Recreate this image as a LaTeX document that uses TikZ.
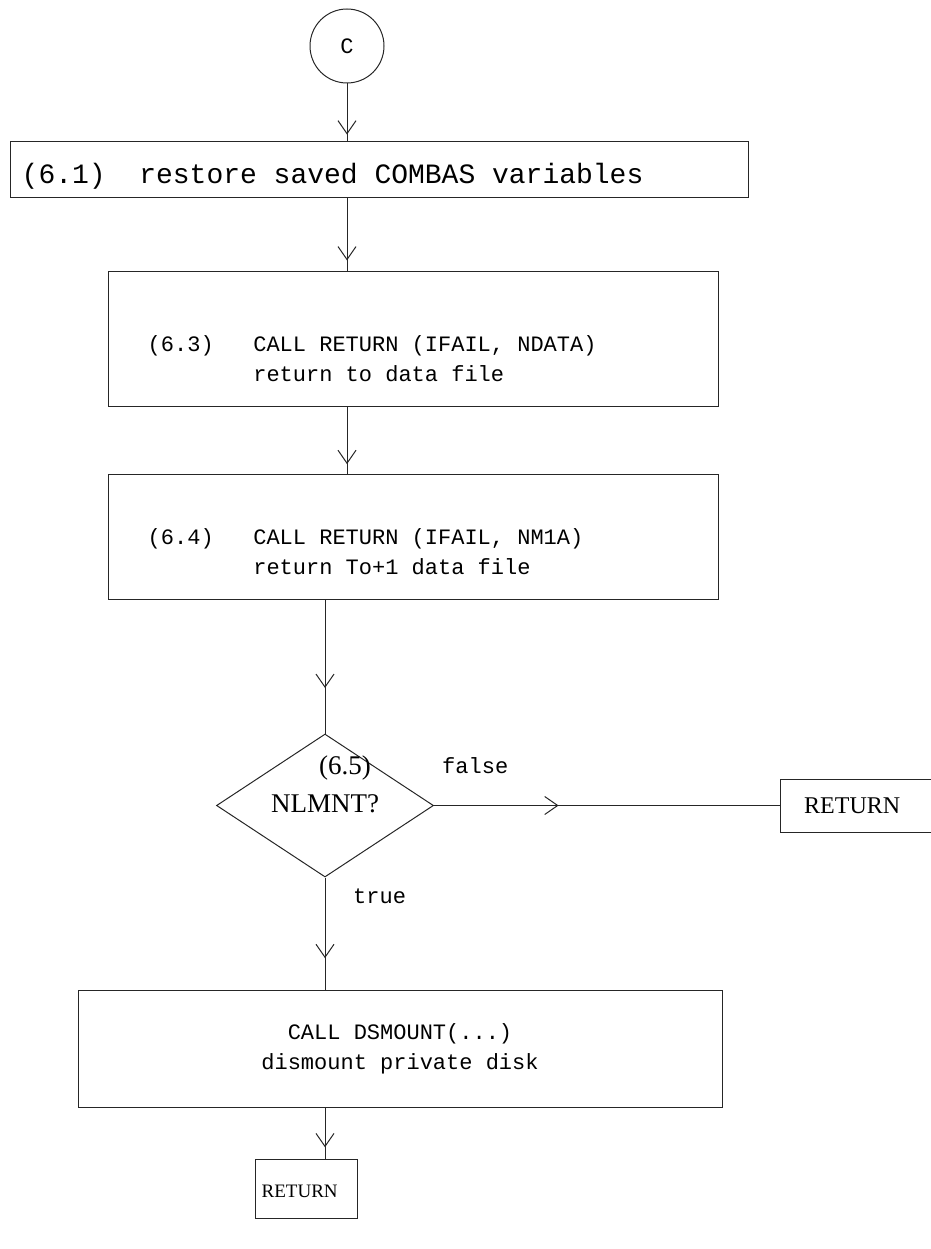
\documentclass[tikz,border=0pt]{standalone}
\usepackage{fontspec}
\setmonofont{Liberation Mono}
\setmainfont{Liberation Serif}
\usetikzlibrary{arrows.meta, positioning, shapes.geometric, decorations.markings}

\begin{document}
\begin{tikzpicture}[
    x=1pt, y=-1pt,
    font=\fontsize{22}{30}\selectfont\ttfamily,
    box/.style={rectangle, draw=black!85, line width=1pt, minimum width=#1, inner sep=0pt},
    box/.default={100pt},
    term/.style={circle, draw=black!85, line width=1pt, minimum size=74pt, inner sep=0pt},
    test/.style={diamond, draw=black!85, line width=1pt, minimum width=217pt, minimum height=143pt, inner sep=0pt},
    txt/.style={align=left, inner sep=0pt},
    rm/.style={font=\fontsize{#1}{28}\selectfont\rmfamily},
    rm/.default={22},
    flow/.style={draw=black!85, line width=1pt, postaction={decorate},
        decoration={markings, mark=at position #1 with {\arrow[black!85]{Straight Barb[length=13pt, width=18pt, line width=1pt]}}}},
]
    \useasboundingbox (0,0) rectangle (930,1249);

    % Boxes down the page
    \node[term] (c) at (347,46) {C};
    \node[box=738pt, minimum height=56pt] (b1) at (379,170) {};
    \node[box=610pt, minimum height=135pt, below=72pt of b1.south, anchor=north, xshift=34pt] (b2) {};
    \node[box=610pt, minimum height=125pt, below=67pt of b2] (b3) {};
    \node[test, below=134pt of b3.south, anchor=north, xshift=-88pt] (d) {};
    \node[box=170pt, minimum height=53pt, right=346pt of d.east, anchor=west] (r1) {};
    \node[box=644pt, minimum height=117pt, below=112pt of d.south, anchor=north, xshift=75pt, align=center] (b4)
        {CALL DSMOUNT(...)\\dismount private disk};
    \node[box=102pt, minimum height=59pt, below=51pt of b4.south, anchor=north, xshift=-94pt] (r2) {};

    % Texts in the boxes
    \node[txt, anchor=west, font=\fontsize{28}{30}\selectfont\ttfamily] (t1) at ([xshift=12pt, yshift=-6pt]b1.west)
        {(6.1)~~restore saved COMBAS variables};
    \node[txt, anchor=west] (t2) at ([xshift=40pt, yshift=-22pt]b2.west)
        {(6.3)~~~CALL RETURN (IFAIL, NDATA)\\\phantom{(6.3)~~~}return to data file};
    \node[txt, anchor=west] (t3) at ([xshift=40pt, yshift=-17pt]b3.west)
        {(6.4)~~~CALL RETURN (IFAIL, NM1A)\\\phantom{(6.4)~~~}return To+1 data file};
    \node[txt, rm=27] (t5a) at ([xshift=20pt, yshift=38pt]d.center) {(6.5)};
    \node[txt, rm=27] (t5b) at ([yshift=2pt]d.center) {NLMNT?};
    \node[txt, rm=24, anchor=west] (t6) at ([xshift=24pt]r1.west) {RETURN};
    \node[txt, rm=19, anchor=west] (t7) at ([xshift=7pt, yshift=-3pt]r2.west) {RETURN};

    % Branch labels
    \node[txt, anchor=west] (lf) at ([xshift=8pt, yshift=40pt]d.east) {false};
    \node[txt, anchor=west] (lt) at ([xshift=28pt, yshift=-19pt]d.south) {true};

    % Flow lines
    \draw[flow=0.88] (c.south) -- (c.south |- b1.north);
    \draw[flow=0.86] (c.south |- b1.south) -- (c.south |- b2.north);
    \draw[flow=0.86] (c.south |- b2.south) -- (c.south |- b3.north);
    \draw[flow=0.66] (d.north |- b3.south) -- (d.north);
    \draw[flow=0.36] (d.east) -- (r1.west);
    \draw[flow=0.72] (d.south) -- (d.south |- b4.north);
    \draw[flow=0.78] (d.south |- b4.south) -- (d.south |- r2.north);
\end{tikzpicture}
\end{document}
